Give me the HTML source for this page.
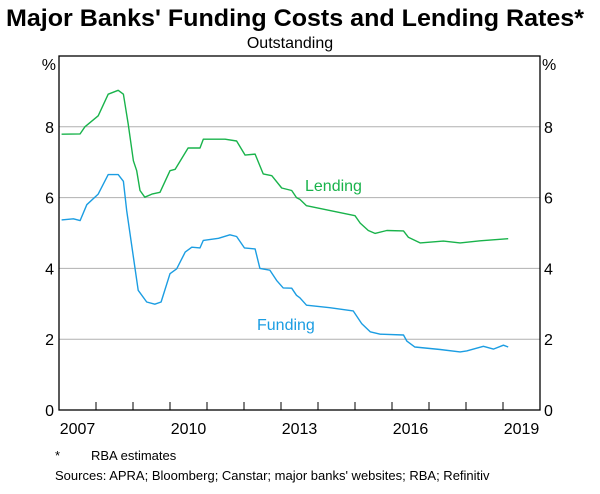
<!DOCTYPE html>
<html><head><meta charset="utf-8"><style>
body{margin:0;background:#fff;width:600px;height:489px;overflow:hidden;font-family:"Liberation Sans",Arial,sans-serif}
</style></head><body>
<svg id="c" width="600" height="489" xmlns="http://www.w3.org/2000/svg" font-family="Liberation Sans, Arial, sans-serif">
<text x="6" y="26" font-size="24" font-weight="bold" textLength="578" lengthAdjust="spacingAndGlyphs">Major Banks' Funding Costs and Lending Rates*</text>
<text x="290" y="48" font-size="16" text-anchor="middle">Outstanding</text>
<g id="grid"></g>
<g id="series"></g>
<g id="axes"></g>
<text x="305" y="191" font-size="16" fill="#19b34b">Lending</text>
<text x="257" y="330" font-size="16" fill="#1b9de2">Funding</text>
<text x="55" y="460" font-size="13">*</text>
<text x="91" y="460" font-size="13">RBA estimates</text>
<text x="55" y="480" font-size="13">Sources:   APRA; Bloomberg; Canstar; major banks' websites; RBA; Refinitiv</text>
</svg>
<script>
const yTicks=[0,2,4,6,8];
const yearLabels=[2007,2010,2013,2016,2019];
const lendingYears=[2007.07,2007.57,2007.70,2008.06,2008.33,2008.60,2008.74,2008.87,2009.01,2009.10,2009.19,2009.32,2009.51,2009.73,2010.00,2010.14,2010.49,2010.81,2010.90,2011.49,2011.80,2012.03,2012.30,2012.52,2012.75,2013.02,2013.29,2013.42,2013.51,2013.69,2015.00,2015.14,2015.36,2015.54,2015.86,2016.31,2016.44,2016.76,2017.39,2017.84,2018.38,2019.14];
const lendingValues=[7.79,7.8,8.0,8.31,8.92,9.03,8.92,8.08,7.04,6.76,6.2,6.01,6.1,6.15,6.76,6.8,7.4,7.4,7.65,7.65,7.6,7.2,7.23,6.67,6.62,6.27,6.2,6.0,5.95,5.77,5.49,5.28,5.07,4.99,5.07,5.06,4.88,4.72,4.77,4.72,4.78,4.84];
const fundingYears=[2007.07,2007.39,2007.57,2007.75,2008.06,2008.33,2008.60,2008.74,2008.83,2009.01,2009.14,2009.37,2009.59,2009.76,2010.00,2010.18,2010.41,2010.59,2010.81,2010.90,2011.31,2011.62,2011.80,2012.01,2012.30,2012.43,2012.70,2012.88,2013.06,2013.29,2013.42,2013.51,2013.69,2014.32,2014.95,2015.18,2015.41,2015.68,2016.31,2016.40,2016.62,2017.30,2017.84,2018.02,2018.47,2018.74,2019.01,2019.14];
const fundingValues=[5.37,5.4,5.35,5.8,6.1,6.65,6.65,6.46,5.63,4.32,3.38,3.05,2.99,3.05,3.85,3.99,4.46,4.6,4.58,4.79,4.85,4.95,4.9,4.58,4.55,4.0,3.95,3.66,3.45,3.44,3.24,3.17,2.96,2.89,2.80,2.44,2.21,2.14,2.12,1.95,1.78,1.71,1.64,1.67,1.80,1.72,1.83,1.78];
const L=59,R=540,T=56,B=410,x0=2007,x1=2020,ymax=10;
const sx=v=>L+(v-x0)/(x1-x0)*(R-L);
const sy=v=>B-v/ymax*(B-T);
const NS='http://www.w3.org/2000/svg';
function mk(tag,parent){const e=document.createElementNS(NS,tag);document.getElementById(parent).appendChild(e);return e;}
yTicks.forEach(t=>{
  if(t>0){const g=mk('line','grid');
    
    
    g.setAttribute('x1',L);g.setAttribute('x2',R);g.setAttribute('y1',sy(t));g.setAttribute('y2',sy(t));g.setAttribute('stroke','#b0b0b0');g.setAttribute('stroke-width','1');}
  const a=mk('text','axes');
  
  
  a.setAttribute('x',L-5);a.setAttribute('y',sy(t)+6);a.setAttribute('font-size','16');a.setAttribute('text-anchor','end');a.textContent=t;
  const b=mk('text','axes');
  
  
  b.setAttribute('x',R+4);b.setAttribute('y',sy(t)+6);b.setAttribute('font-size','16');b.textContent=t;
});
['%','%'].forEach((p,i)=>{const e=mk('text','axes');
  
  
  e.setAttribute('x',i?R+2:L-3);e.setAttribute('y',T+14);e.setAttribute('font-size','16');e.setAttribute('text-anchor',i?'start':'end');e.textContent=p;});
const frame=mk('rect','axes');


frame.setAttribute('x',L);frame.setAttribute('y',T);frame.setAttribute('width',R-L);frame.setAttribute('height',B-T);frame.setAttribute('fill','none');frame.setAttribute('stroke','#000');frame.setAttribute('stroke-width','1.3');
for(let y=x0+1;y<x1;y++){const t=mk('line','axes');
  
  
  t.setAttribute('x1',sx(y));t.setAttribute('x2',sx(y));t.setAttribute('y1',B);t.setAttribute('y2',B-8);t.setAttribute('stroke','#000');}
yearLabels.forEach(y=>{const t=mk('text','axes');
  
  
  t.setAttribute('x',sx(y+0.5));t.setAttribute('y',B+24);t.setAttribute('font-size','16');t.setAttribute('text-anchor','middle');t.textContent=y;});
function line(xs,vs,col,name){const p=mk('polyline','series');
  
  
  p.setAttribute('points',xs.map((x,i)=>sx(x).toFixed(1)+','+sy(vs[i]).toFixed(1)).join(' '));
  p.setAttribute('fill','none');p.setAttribute('stroke',col);p.setAttribute('stroke-width','1.4');p.setAttribute('stroke-linejoin','round');}
line(lendingYears,lendingValues,'#19b34b','lending-line');
line(fundingYears,fundingValues,'#1b9de2','funding-line');
</script>
</body></html>
